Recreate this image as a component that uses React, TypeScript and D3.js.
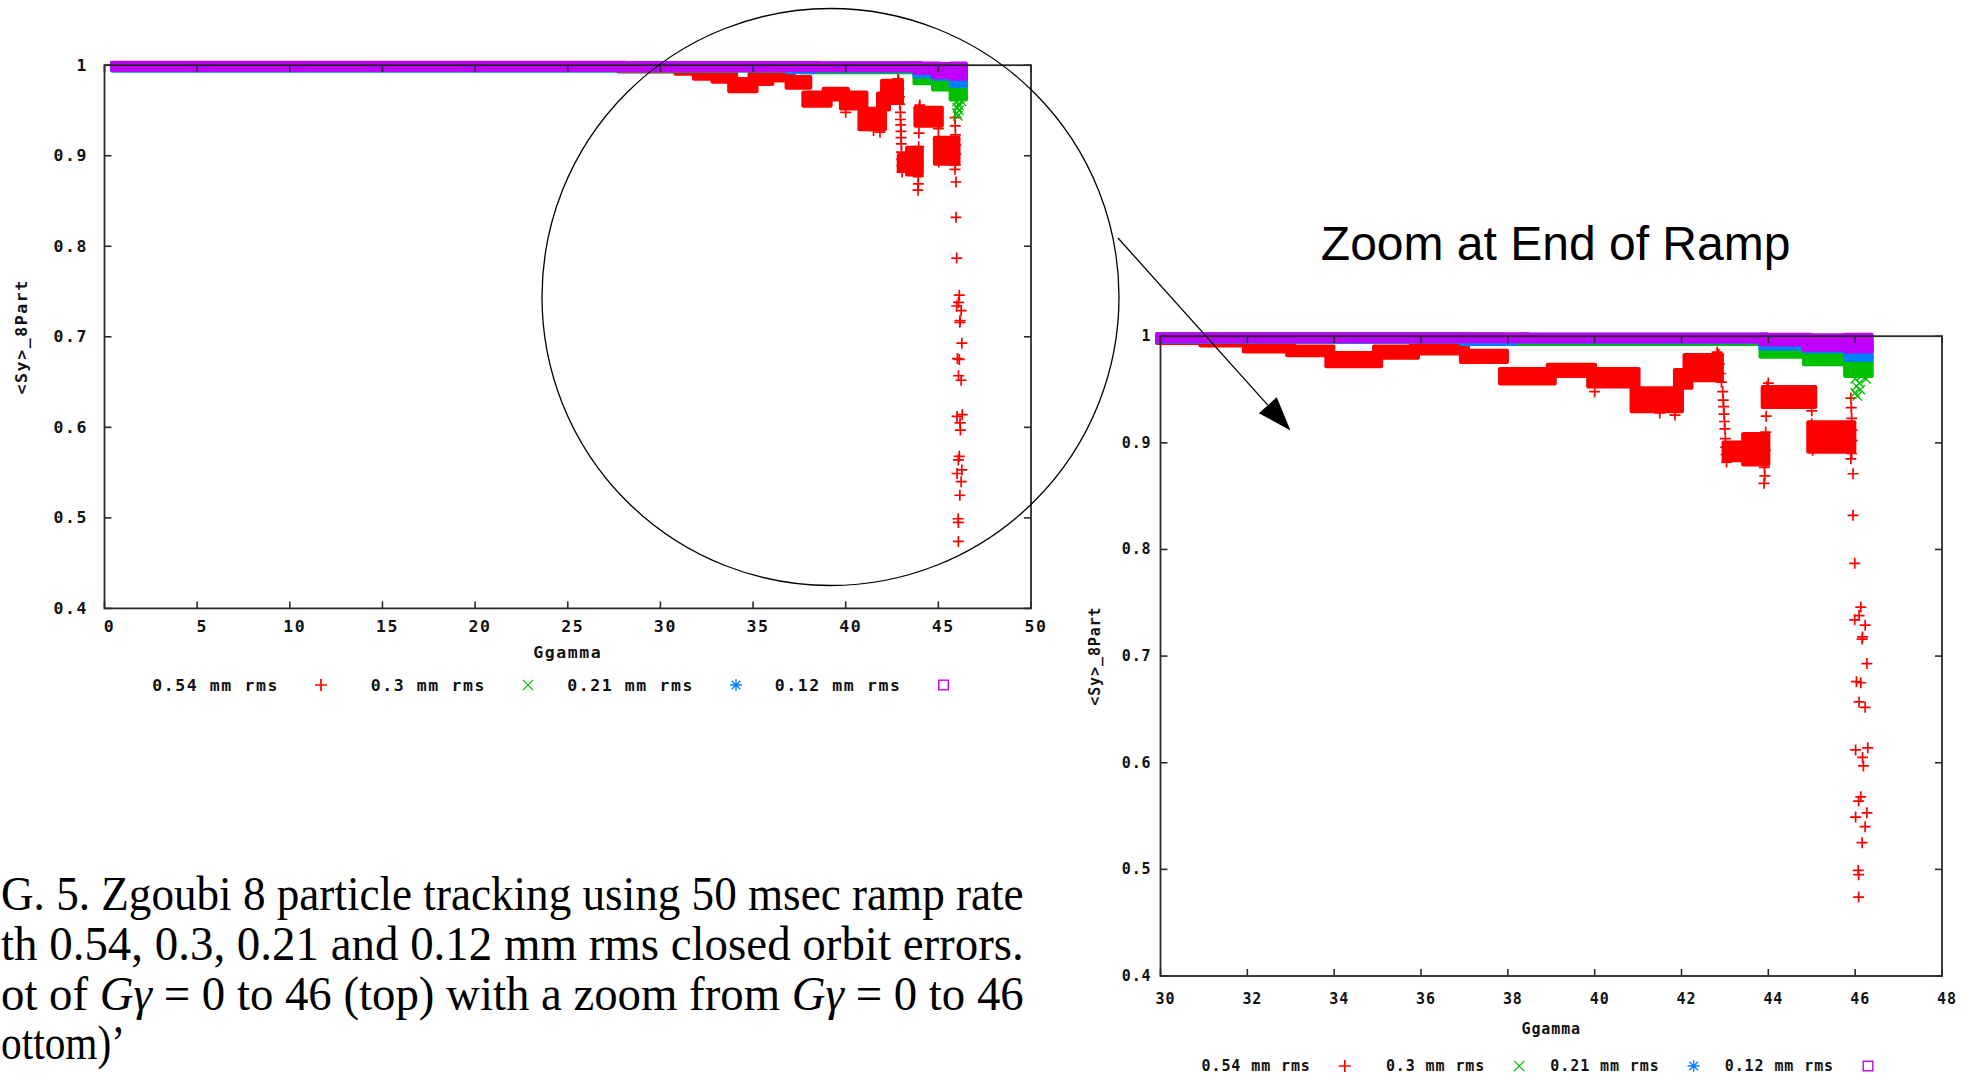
import React, { useLayoutEffect, useRef, useState } from "react";
import * as d3 from "d3";

// band = [Ggamma from, Ggamma to, highest marker centre, lowest marker centre]
type Band = [number, number, number, number];
type Pt = [number, number];

const seriesNames = ["0.54 mm rms", "0.3 mm rms", "0.21 mm rms", "0.12 mm rms"];
const seriesColors = ["#ff0000", "#00c000", "#0080ff", "#c000ff"];
const seriesShapes = ["plus", "cross", "star", "square"];

const redBands: Band[] = [
  [0.6, 27.9, 0.9988, 0.9985],
  [27.9, 31.0, 0.9978, 0.997],
  [31.0, 32.0, 0.996, 0.9945],
  [32.0, 33.0, 0.993, 0.989],
  [33.0, 33.9, 0.987, 0.9855],
  [33.9, 35.0, 0.981, 0.975],
  [35.0, 35.85, 0.987, 0.983],
  [35.85, 37.0, 0.989, 0.987],
  [37.0, 37.9, 0.983, 0.979],
  [37.9, 39.0, 0.966, 0.959],
  [39.0, 39.93, 0.97, 0.966],
  [39.93, 40.93, 0.966, 0.956],
  [40.93, 41.93, 0.948, 0.933],
  [41.93, 42.15, 0.965, 0.955],
  [42.15, 42.85, 0.979, 0.962],
  [43.05, 43.5, 0.897, 0.887],
  [43.5, 43.92, 0.905, 0.883],
  [43.95, 45.0, 0.949, 0.937],
  [45.0, 45.9, 0.916, 0.895],
];

const redPoints: Pt[] = [
  [42.86, 0.983], [42.87, 0.974], [42.9, 0.965], [42.92, 0.957], [42.95, 0.948],
  [42.96, 0.94], [42.97, 0.934], [42.98, 0.927], [42.99, 0.92], [43.0, 0.913],
  [43.01, 0.904], [43.02, 0.896], [43.03, 0.889], [43.04, 0.882],
  [43.9, 0.862], [43.92, 0.869], [43.91, 0.877], [43.93, 0.893], [43.94, 0.91],
  [43.95, 0.925], [43.96, 0.94], [43.97, 0.953],
  [45.0, 0.93], [45.0, 0.918], [45.01, 0.905], [45.02, 0.893],
  [45.9, 0.942], [45.91, 0.933], [45.92, 0.923], [45.93, 0.912], [45.93, 0.902],
  [45.92, 0.89], [45.9, 0.885],
  [40.0, 0.948], [41.5, 0.928], [41.85, 0.926], [42.82, 0.985], [44.0, 0.956],
  [45.95, 0.871], [45.95, 0.832], [45.99, 0.787], [46.13, 0.746], [45.99, 0.734],
  [46.09, 0.738], [46.23, 0.729], [46.17, 0.718], [46.16, 0.716], [46.27, 0.693],
  [46.03, 0.676], [46.13, 0.675], [46.09, 0.657], [46.23, 0.652], [46.01, 0.612],
  [46.29, 0.614], [46.17, 0.605], [46.19, 0.597], [46.13, 0.568], [46.08, 0.564],
  [46.27, 0.553], [46.01, 0.549], [46.23, 0.54], [46.16, 0.525], [46.07, 0.499],
  [46.08, 0.495], [46.08, 0.474],
];

const greenBands: Band[] = [
  [0.6, 37.8, 0.9985, 0.998],
  [37.8, 43.9, 0.997, 0.996],
  [43.9, 44.9, 0.987, 0.984],
  [44.9, 45.85, 0.983, 0.977],
  [45.85, 46.3, 0.978, 0.966],
];

const greenPoints: Pt[] = [
  [45.9, 0.972], [45.95, 0.966], [46.0, 0.96], [46.03, 0.953], [46.0, 0.947],
  [46.05, 0.944], [46.1, 0.956], [46.15, 0.963], [46.2, 0.968], [46.25, 0.96],
  [46.08, 0.97], [46.28, 0.972], [46.12, 0.95],
];

const blueBands: Band[] = [
  [0.6, 37.0, 0.9985, 0.998],
  [37.0, 38.1, 0.9975, 0.996],
  [38.1, 43.9, 0.998, 0.9975],
  [43.9, 44.9, 0.995, 0.9915],
  [44.9, 45.85, 0.994, 0.989],
  [45.85, 46.3, 0.992, 0.981],
];

const bluePoints: Pt[] = [];

const purpleBands: Band[] = [
  [0.6, 38.4, 0.9985, 0.9985],
  [38.4, 43.9, 0.9983, 0.9982],
  [43.9, 44.9, 0.998, 0.9955],
  [44.9, 45.85, 0.9975, 0.9905],
  [45.85, 46.3, 0.998, 0.989],
];

const purplePoints: Pt[] = [];

const yTicks = [0.4, 0.5, 0.6, 0.7, 0.8, 0.9, 1];
const fullXTicks = [0, 5, 10, 15, 20, 25, 30, 35, 40, 45, 50];
const zoomXTicks = [30, 32, 34, 36, 38, 40, 42, 44, 46, 48];

const series = [
  { bands: redBands, points: redPoints },
  { bands: greenBands, points: greenPoints },
  { bands: blueBands, points: bluePoints },
  { bands: purpleBands, points: purplePoints },
];

const mono = "'DejaVu Sans Mono', 'Liberation Mono', monospace";
const axisColor = "#2a2a2a";

function Marker({ shape, x, y, color, r }: any) {
  if (shape === "square") {
    return <rect x={x - r * 0.8} y={y - r * 0.8} width={r * 1.6} height={r * 1.6} fill="none" stroke={color} strokeWidth={1.4} />;
  }
  const plus = `M${x - r},${y}H${x + r}M${x},${y - r}V${y + r}`;
  const c = shape === "star" ? r * 0.72 : r * 0.85;
  const cross = `M${x - c},${y - c}L${x + c},${y + c}M${x - c},${y + c}L${x + c},${y - c}`;
  const d = shape === "plus" ? plus : shape === "cross" ? cross : plus + cross;
  return <path d={d} stroke={color} strokeWidth={shape === "plus" ? 1.7 : 1.3} fill="none" />;
}

function Panel({ cfg }: any) {
  const [lo, hi] = cfg.xDomain;
  const x = d3.scaleLinear().domain(cfg.xDomain).range([cfg.left, cfg.right]);
  const y = d3.scaleLinear().domain([0.4, 1]).range([cfg.bottom, cfg.top]);
  const pad = 5.5;
  const tick = 7;
  const fontProps = {
    fontFamily: mono,
    fontWeight: "bold",
    fontSize: cfg.fontSize,
    letterSpacing: cfg.letterSpacing,
    fill: "#111",
  };

  return (
    <g>
      {series.map((s, i) => (
        <g key={i}>
          {s.bands
            .filter((b) => b[1] >= lo && b[0] <= hi)
            .map((b, j) => {
              const x0 = x(Math.max(b[0], lo)) - pad;
              const x1 = x(Math.min(b[1], hi)) + pad;
              const y0 = y(b[2]) - pad;
              const y1 = y(b[3]) + pad;
              return <rect key={j} x={x0} y={y0} width={x1 - x0} height={y1 - y0} rx={2} fill={seriesColors[i]} />;
            })}
          {s.points
            .filter((p) => p[0] >= lo && p[0] <= hi)
            .map((p, j) => (
              <Marker key={j} shape={seriesShapes[i]} x={x(p[0])} y={y(p[1])} color={seriesColors[i]} r={pad} />
            ))}
        </g>
      ))}

      {/* frame with mirrored ticks */}
      <rect x={cfg.left} y={cfg.top} width={cfg.right - cfg.left} height={cfg.bottom - cfg.top} fill="none" stroke={axisColor} strokeWidth={1.8} />
      {yTicks.map((t) => (
        <g key={"y" + t}>
          <line x1={cfg.left} x2={cfg.left + tick} y1={y(t)} y2={y(t)} stroke={axisColor} strokeWidth={1.6} />
          <line x1={cfg.right} x2={cfg.right - tick} y1={y(t)} y2={y(t)} stroke={axisColor} strokeWidth={1.6} />
          <text x={cfg.yTickX} y={y(t)} textAnchor="end" dominantBaseline="central" {...fontProps}>
            {d3.format("~g")(t)}
          </text>
        </g>
      ))}
      {cfg.xTicks.map((t: number) => (
        <g key={"x" + t}>
          <line x1={x(t)} x2={x(t)} y1={cfg.bottom} y2={cfg.bottom - tick} stroke={axisColor} strokeWidth={1.6} />
          <line x1={x(t)} x2={x(t)} y1={cfg.top} y2={cfg.top + tick} stroke={axisColor} strokeWidth={1.6} />
          <text x={x(t) + 5} y={cfg.xTickY} textAnchor="middle" dominantBaseline="central" {...fontProps}>
            {t}
          </text>
        </g>
      ))}
      <text x={(cfg.left + cfg.right) / 2} y={cfg.xLabelY} textAnchor="middle" dominantBaseline="central" {...fontProps}>
        Ggamma
      </text>
      <text
        transform={`translate(${cfg.yLabelX},${(cfg.top + cfg.bottom) / 2}) rotate(-90)`}
        textAnchor="middle"
        dominantBaseline="central"
        {...fontProps}
      >
        {"<Sy>_8Part"}
      </text>

      {seriesNames.map((name, i) => (
        <g key={name}>
          <text x={cfg.legendX[i] - cfg.legendGap} y={cfg.legendY} textAnchor="end" dominantBaseline="central" {...fontProps}>
            {name}
          </text>
          <Marker shape={seriesShapes[i]} x={cfg.legendX[i]} y={cfg.legendY} color={seriesColors[i]} r={6} />
        </g>
      ))}
    </g>
  );
}

const fullCfg = {
  xDomain: [0, 50],
  xTicks: fullXTicks,
  left: 104.5,
  right: 1031,
  top: 65.2,
  bottom: 608.4,
  fontSize: 16.5,
  letterSpacing: 1.6,
  yTickX: 88,
  xTickY: 626,
  xLabelY: 652,
  yLabelX: 21,
  legendY: 685,
  legendX: [321, 528, 736, 943.5],
  legendGap: 42,
};

const zoomCfg = {
  xDomain: [30, 48],
  xTicks: zoomXTicks,
  left: 1160.5,
  right: 1942,
  top: 336.2,
  bottom: 976,
  fontSize: 15,
  letterSpacing: 0.9,
  yTickX: 1151.5,
  xTickY: 998.6,
  xLabelY: 1028.7,
  yLabelX: 1095,
  legendY: 1066,
  legendX: [1344.8, 1519.2, 1693.6, 1868],
  legendGap: 34,
};

// caption lines: baseline y and width each line is set to
const captionBaselines = [910, 960, 1010, 1059];
const captionWidths = [1023, 1023, 1023, 124];

function Caption() {
  const refs = useRef<(SVGTextElement | null)[]>([]);
  const [scales, setScales] = useState([1, 1, 1, 1]);
  useLayoutEffect(() => {
    setScales(
      refs.current.map((el, i) => {
        const w = el ? el.getComputedTextLength() : 0;
        return w > 0 ? captionWidths[i] / w : 1;
      })
    );
  }, []);
  const lines = [
    <>G. 5.  Zgoubi 8 particle tracking using 50 msec ramp rate</>,
    <>th 0.54, 0.3, 0.21 and 0.12 mm rms closed orbit errors.</>,
    <>
      ot of <tspan fontStyle="italic">Gγ</tspan> = 0 to 46 (top) with a zoom from{" "}
      <tspan fontStyle="italic">Gγ</tspan> = 0 to 46
    </>,
    <>ottom)’</>,
  ];
  return (
    <g fontFamily="'Liberation Serif', 'DejaVu Serif', serif" fontSize={48} fill="#000">
      {lines.map((l, i) => (
        <text
          key={i}
          ref={(el) => {
            refs.current[i] = el;
          }}
          transform={`translate(1,${captionBaselines[i]}) scale(${scales[i]},1)`}
        >
          {l}
        </text>
      ))}
    </g>
  );
}

export default function App() {
  const arrowStart: Pt = [1118, 238];
  const arrowTip: Pt = [1290.5, 430.5];
  const ang = Math.atan2(arrowTip[1] - arrowStart[1], arrowTip[0] - arrowStart[0]);
  const headLen = 34;
  const headHalf = 12;
  const bx = arrowTip[0] - headLen * Math.cos(ang);
  const by = arrowTip[1] - headLen * Math.sin(ang);
  const head = [
    arrowTip,
    [bx + headHalf * Math.sin(ang), by - headHalf * Math.cos(ang)],
    [bx - headHalf * Math.sin(ang), by + headHalf * Math.cos(ang)],
  ];

  return (
    <svg
      width={1967}
      height={1079}
      style={{ position: "absolute", left: 0, top: 0, background: "#fff" }}
    >
      <rect width={1967} height={1079} fill="#fff" />
      <Panel cfg={fullCfg} />
      <Panel cfg={zoomCfg} />

      <circle cx={830.5} cy={297} r={288.5} fill="none" stroke="#000" strokeWidth={1.3} />
      <line x1={arrowStart[0]} y1={arrowStart[1]} x2={bx} y2={by} stroke="#000" strokeWidth={1.3} />
      <polygon points={head.map((p) => p.join(",")).join(" ")} fill="#000" />

      <text x={1555.6} y={259.7} textAnchor="middle" fontFamily="'Liberation Sans', Arial, sans-serif" fontSize={48} fill="#000">
        Zoom at End of Ramp
      </text>

      <Caption />
    </svg>
  );
}
